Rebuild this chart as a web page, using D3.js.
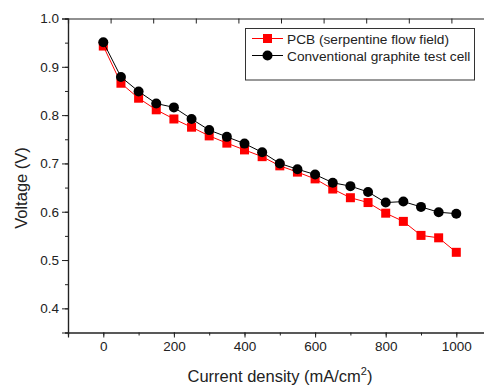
<!DOCTYPE html>
<html><head><meta charset="utf-8">
<script src="https://cdn.jsdelivr.net/npm/d3@7"></script>
<style>body{margin:0;background:#fff}svg{display:block}text{font-family:"Liberation Sans",Arial,sans-serif}</style>
</head><body><svg id="c" width="484" height="385"></svg>
<script>
const currentDensity = [0,50,100,150,200,250,300,350,400,450,500,550,600,650,700,750,800,850,900,950,1000];
const pcbVoltage = [0.943,0.866,0.835,0.811,0.792,0.775,0.757,0.742,0.728,0.714,0.695,0.682,0.668,0.647,0.629,0.619,0.597,0.580,0.551,0.546,0.516];
const graphiteVoltage = [0.951,0.879,0.849,0.824,0.816,0.792,0.769,0.755,0.741,0.723,0.700,0.688,0.677,0.660,0.653,0.641,0.619,0.621,0.610,0.599,0.596];
const seriesNames = ["PCB (serpentine flow field)","Conventional graphite test cell"];
const xTicks = [0,200,400,600,800,1000];
const yTicks = [0.4,0.5,0.6,0.7,0.8,0.9,1.0];

const svg = d3.select("#c");
const L=68, T=18.5, B=332.5;
const x = d3.scaleLinear().domain([-100,1100]).range([L, L+1200*0.353]);
const y = d3.scaleLinear().domain([0.35,1.0]).range([B, T]);
const ink="#222";
const ff="Liberation Sans, Arial, sans-serif";

// bottom axis
const xMinor = d3.range(-100,1101,100);
const gx = svg.append("g").attr("transform",`translate(0,${B})`);
gx.call(d3.axisBottom(x).tickValues(xMinor).tickSize(3).tickFormat(""));
const gx2 = svg.append("g").attr("transform",`translate(0,${B})`);
gx2.call(d3.axisBottom(x).tickValues(xTicks).tickSize(5).tickPadding(4).tickFormat(d3.format("d")));
[gx,gx2].forEach(g=>{g.select(".domain").attr("stroke",ink).attr("stroke-width",1.2);g.selectAll("line").attr("stroke",ink);g.selectAll("text").attr("fill",ink).style("font-size","13.5px").style("font-family",ff);});

// left axis
const yMinor = d3.range(0.35,1.001,0.05).map(v=>+v.toFixed(2));
const gy = svg.append("g").attr("transform",`translate(${L},0)`);
gy.call(d3.axisLeft(y).tickValues(yMinor).tickSize(3).tickFormat(""));
const gy2 = svg.append("g").attr("transform",`translate(${L},0)`);
gy2.call(d3.axisLeft(y).tickValues(yTicks).tickSize(6).tickPadding(3).tickFormat(d3.format(".1f")));
[gy,gy2].forEach(g=>{g.select(".domain").attr("stroke",ink).attr("stroke-width",1.2);g.selectAll("line").attr("stroke",ink);g.selectAll("text").attr("fill",ink).style("font-size","13.5px").style("font-family",ff);});

// top frame with inward ticks
const xTop = d3.scaleLinear().domain([0,10]).range([L, L+426]);
const gt = svg.append("g").attr("transform",`translate(0,${T})`);
gt.call(d3.axisTop(xTop).tickValues(d3.range(1,10)).tickSize(-5).tickFormat(""));
gt.select(".domain").attr("stroke",ink).attr("stroke-width",1.2);
gt.selectAll("line").attr("stroke",ink);

// lines
const data = [
  {name:seriesNames[0], vals:pcbVoltage, color:"#ff0000", shape:"square"},
  {name:seriesNames[1], vals:graphiteVoltage, color:"#000000", shape:"circle"}
];
const line = d3.line().x((d,i)=>x(currentDensity[i])).y(d=>y(d));
function drawMarker(g, s, cx, cy){
  if(s.shape==="square") g.append("rect").attr("x",cx-4.5).attr("y",cy-4.5).attr("width",9).attr("height",9).attr("fill",s.color);
  else g.append("circle").attr("cx",cx).attr("cy",cy).attr("r",5).attr("fill",s.color);
}
data.forEach(s=>{
  svg.append("path").attr("d",line(s.vals)).attr("fill","none").attr("stroke",s.color).attr("stroke-width",1);
  const g = svg.append("g");
  s.vals.forEach((v,i)=>drawMarker(g,s,x(currentDensity[i]),y(v)));
});

// legend
const lg = svg.append("g");
lg.append("rect").attr("x",245.5).attr("y",28.5).attr("width",229).attr("height",51.5).attr("fill","#fff").attr("stroke","#333").attr("stroke-width",1);
data.forEach((s,i)=>{
  const yy = 38.5 + i*17;
  lg.append("line").attr("x1",252).attr("x2",283).attr("y1",yy).attr("y2",yy).attr("stroke",s.color).attr("stroke-width",1);
  drawMarker(lg,s,267.5,yy);
  lg.append("text").attr("x",287).attr("y",yy+5).attr("fill",ink).style("font-size","13.7px").text(s.name);
});

// titles
svg.append("text").attr("transform",`translate(26.5,188) rotate(-90)`).attr("text-anchor","middle").attr("fill",ink).style("font-size","16.5px").text("Voltage (V)");
const xt = svg.append("text").attr("x",280).attr("y",382).attr("text-anchor","middle").attr("fill",ink).style("font-size","16.5px");
xt.append("tspan").text("Current density (mA/cm");
xt.append("tspan").attr("dy",-7).style("font-size","11px").text("2");
xt.append("tspan").attr("dy",7).text(")");
</script></body></html>
